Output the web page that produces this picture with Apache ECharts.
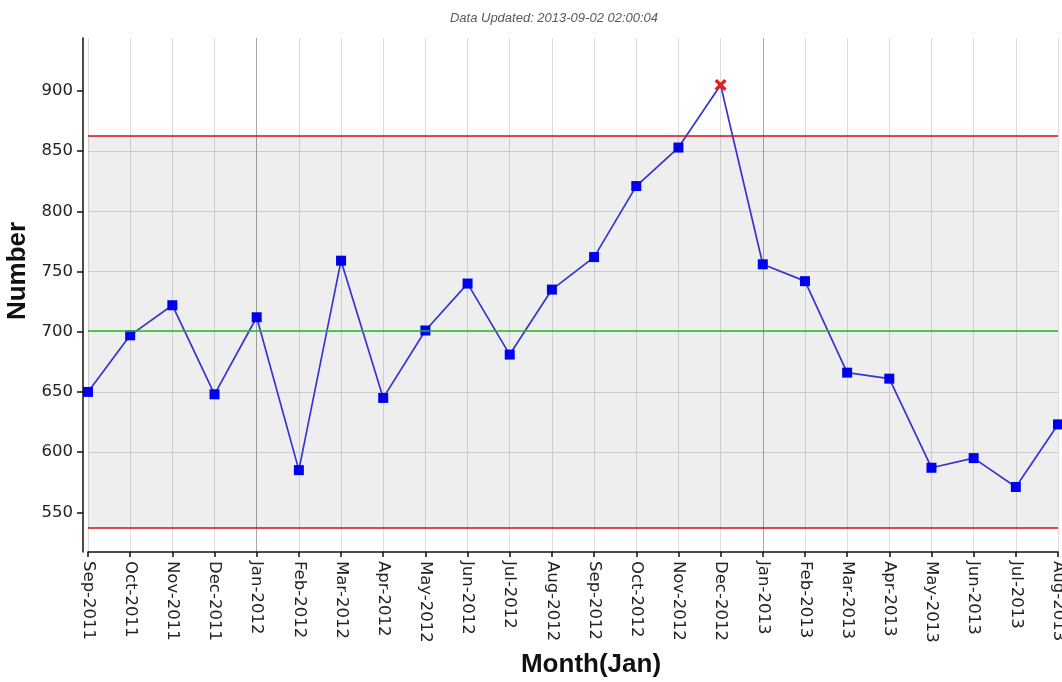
<!DOCTYPE html>
<html>
<head>
<meta charset="utf-8">
<title>Control chart</title>
<script src="https://cdn.jsdelivr.net/npm/echarts@6/dist/echarts.min.js"></script>
<style>
  html, body { margin: 0; padding: 0; background: #fff; }
  #main { width: 1062px; height: 682px; }
</style>
</head>
<body>
<div id="main"></div>
<script>
// monthly counts, Sep-2011 .. Aug-2013
var months = ['Sep-2011','Oct-2011','Nov-2011','Dec-2011','Jan-2012','Feb-2012','Mar-2012','Apr-2012',
              'May-2012','Jun-2012','Jul-2012','Aug-2012','Sep-2012','Oct-2012','Nov-2012','Dec-2012',
              'Jan-2013','Feb-2013','Mar-2013','Apr-2013','May-2013','Jun-2013','Jul-2013','Aug-2013'];
var counts = [650, 697, 722, 648, 712, 585, 759, 645, 701, 740, 681, 735,
              762, 821, 853, 905, 756, 742, 666, 661, 587, 595, 571, 623];
// control limits
var ucl = 862.5;
var centerLine = 700.7;
var lcl = 537;
var yTicks = [550, 600, 650, 700, 750, 800, 850, 900];

var subtitle = 'Data Updated: 2013-09-02 02:00:04';

var font = 'Liberation Sans, Arial, sans-serif';
var tickFont = 'DejaVu Sans, sans-serif';
var crossPath = 'path://M2,0L5,3L8,0L10,2L7,5L10,8L8,10L5,7L2,10L0,8L3,5L0,2Z';

var pointData = counts.map(function (v) {
    if (v > ucl || v < lcl) {
        return { value: v, symbol: crossPath, symbolSize: 12, itemStyle: { color: '#e02020' } };
    }
    return v;
});

// darker vertical line on each January
var vColors = months.slice(0, 12).map(function (m) {
    return m.indexOf('Jan') === 0 ? '#a8a8a8' : '#dcdcdc';
});

var chart = echarts.init(document.getElementById('main'));

var option = {
    animation: false,
    backgroundColor: '#fff',
    title: {
        text: subtitle,
        left: 549,
        textAlign: 'center',
        top: 7,
        textStyle: { fontFamily: font, fontSize: 13, fontStyle: 'italic', fontWeight: 'normal', color: '#5a5a5a' }
    },
    grid: { left: 88, right: 4, top: 38, bottom: 130, outerBoundsMode: 'none', containLabel: false },
    xAxis: {
        type: 'category',
        data: months,
        boundaryGap: false,
        name: 'Month(Jan)',
        nameLocation: 'middle',
        nameGap: 100,
        nameTextStyle: { fontFamily: font, fontSize: 26, fontWeight: 'bold', color: '#111', padding: [0, 0, 0, 36] },
        axisLine: { lineStyle: { color: '#111', width: 1.5 } },
        axisTick: { show: true, length: 5, interval: 0, lineStyle: { color: '#111', width: 1.5 } },
        axisLabel: { rotate: -90, interval: 0, margin: 9, fontFamily: tickFont, fontSize: 16.5, color: '#222' },
        splitLine: { show: true, interval: 0, lineStyle: { color: vColors, width: 1 } }
    },
    yAxis: {
        type: 'value',
        min: 517,
        max: 944,
        minInterval: 50,
        maxInterval: 50,
        offset: 5,
        name: 'Number',
        nameLocation: 'middle',
        nameRotate: 90,
        nameGap: 48,
        nameTextStyle: { fontFamily: font, fontSize: 26, fontWeight: 'bold', color: '#111', padding: [0, 0, 0, 48] },
        axisLine: { show: true, lineStyle: { color: '#111', width: 1.5 } },
        axisTick: { show: true, length: 6, customValues: yTicks, lineStyle: { color: '#111', width: 1.5 } },
        axisLabel: {
            margin: 10, fontFamily: tickFont, fontSize: 16.5, color: '#222',
            formatter: function (v) { return yTicks.indexOf(v) >= 0 ? String(v) : ''; }
        },
        splitLine: { show: true, showMinLine: false, showMaxLine: false, lineStyle: { color: '#dcdcdc', width: 1 } }
    },
    series: [{
        type: 'line',
        data: pointData,
        symbol: 'rect',
        symbolSize: 10,
        itemStyle: { color: '#0000f0' },
        lineStyle: { color: '#3535d0', width: 1.7 },
        markArea: {
            silent: true,
            itemStyle: { color: 'rgba(0,0,0,0.065)' },
            data: [[{ yAxis: lcl }, { yAxis: ucl }]]
        },
        markLine: {
            silent: true,
            symbol: 'none',
            label: { show: false },
            data: [
                { yAxis: ucl, lineStyle: { color: '#d01010', width: 1.5, type: 'solid' } },
                { yAxis: centerLine, lineStyle: { color: '#22bb22', width: 1.5, type: 'solid' } },
                { yAxis: lcl, lineStyle: { color: '#d01010', width: 1.5, type: 'solid' } }
            ]
        },
        z: 3
    }]
};

chart.setOption(option);
</script>
</body>
</html>
